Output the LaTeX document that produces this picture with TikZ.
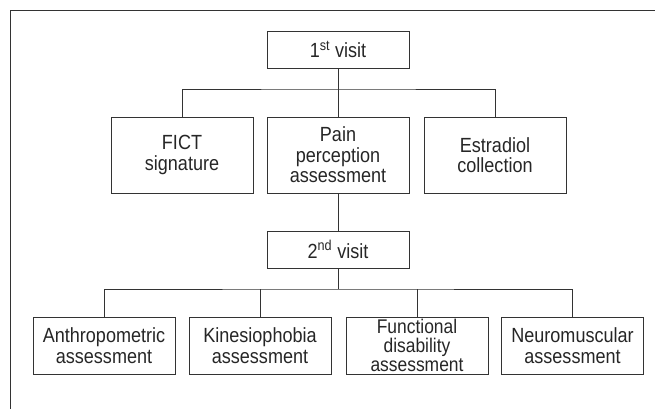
\documentclass[tikz,border=0pt]{standalone}
\usepackage{fontspec}
\setmainfont[FakeStretch=0.88]{Liberation Sans}
\begin{document}
\begin{tikzpicture}[x=1pt,y=1pt,
  box/.style={draw=black!80, line width=0.9pt, minimum width=142pt, inner sep=0pt, align=center,
    font=\fontsize{20.5}{20.5}\selectfont, text=black!85},
  visit/.style={box, minimum height=37pt},
  midbox/.style={box, minimum height=76pt},
  lowbox/.style={box, minimum height=57pt},
  tightbox/.style={lowbox, font=\fontsize{19.8}{19}\selectfont},
  conn/.style={draw=black!80, line width=0.9pt}]
\useasboundingbox (0,0) rectangle (655,-409);
\draw[conn] (10,-409) -- (10,-10) -- (655,-10);
\node[visit] (v1) at (338,-49.5) {1\textsuperscript{st} visit};
\node[midbox] (fict) at (182,-155) {FICT\\signature};
\node[midbox] (pain) at (338,-155) {Pain\\perception\\assessment};
\node[midbox] (estr) at (495,-155) {Estradiol\\collection};
\node[visit] (v2) at (338,-249.5) {2\textsuperscript{nd} visit};
\node[lowbox] (anth) at (104,-345.5) {Anthropometric\\assessment};
\node[lowbox] (kin) at (260,-345.5) {Kinesiophobia\\assessment};
\node[tightbox] (func) at (417,-345.5) {Functional\\disability\\assessment};
\node[lowbox] (neur) at (572.5,-345.5) {Neuromuscular\\assessment};
\coordinate (b1) at (338,-89);
\coordinate (b2) at (338,-289);
\draw[conn] (v1.south) -- (pain.north);
\draw[conn] (fict.north) |- (b1) -| (estr.north);
\draw[conn] (pain.south) -- (v2.north);
\draw[conn] (v2.south) -- (b2);
\draw[conn] (anth.north) |- (b2) -| (neur.north);
\draw[conn] (kin.north) -- (kin.north |- b2);
\draw[conn] (func.north) -- (func.north |- b2);
\end{tikzpicture}
\end{document}
